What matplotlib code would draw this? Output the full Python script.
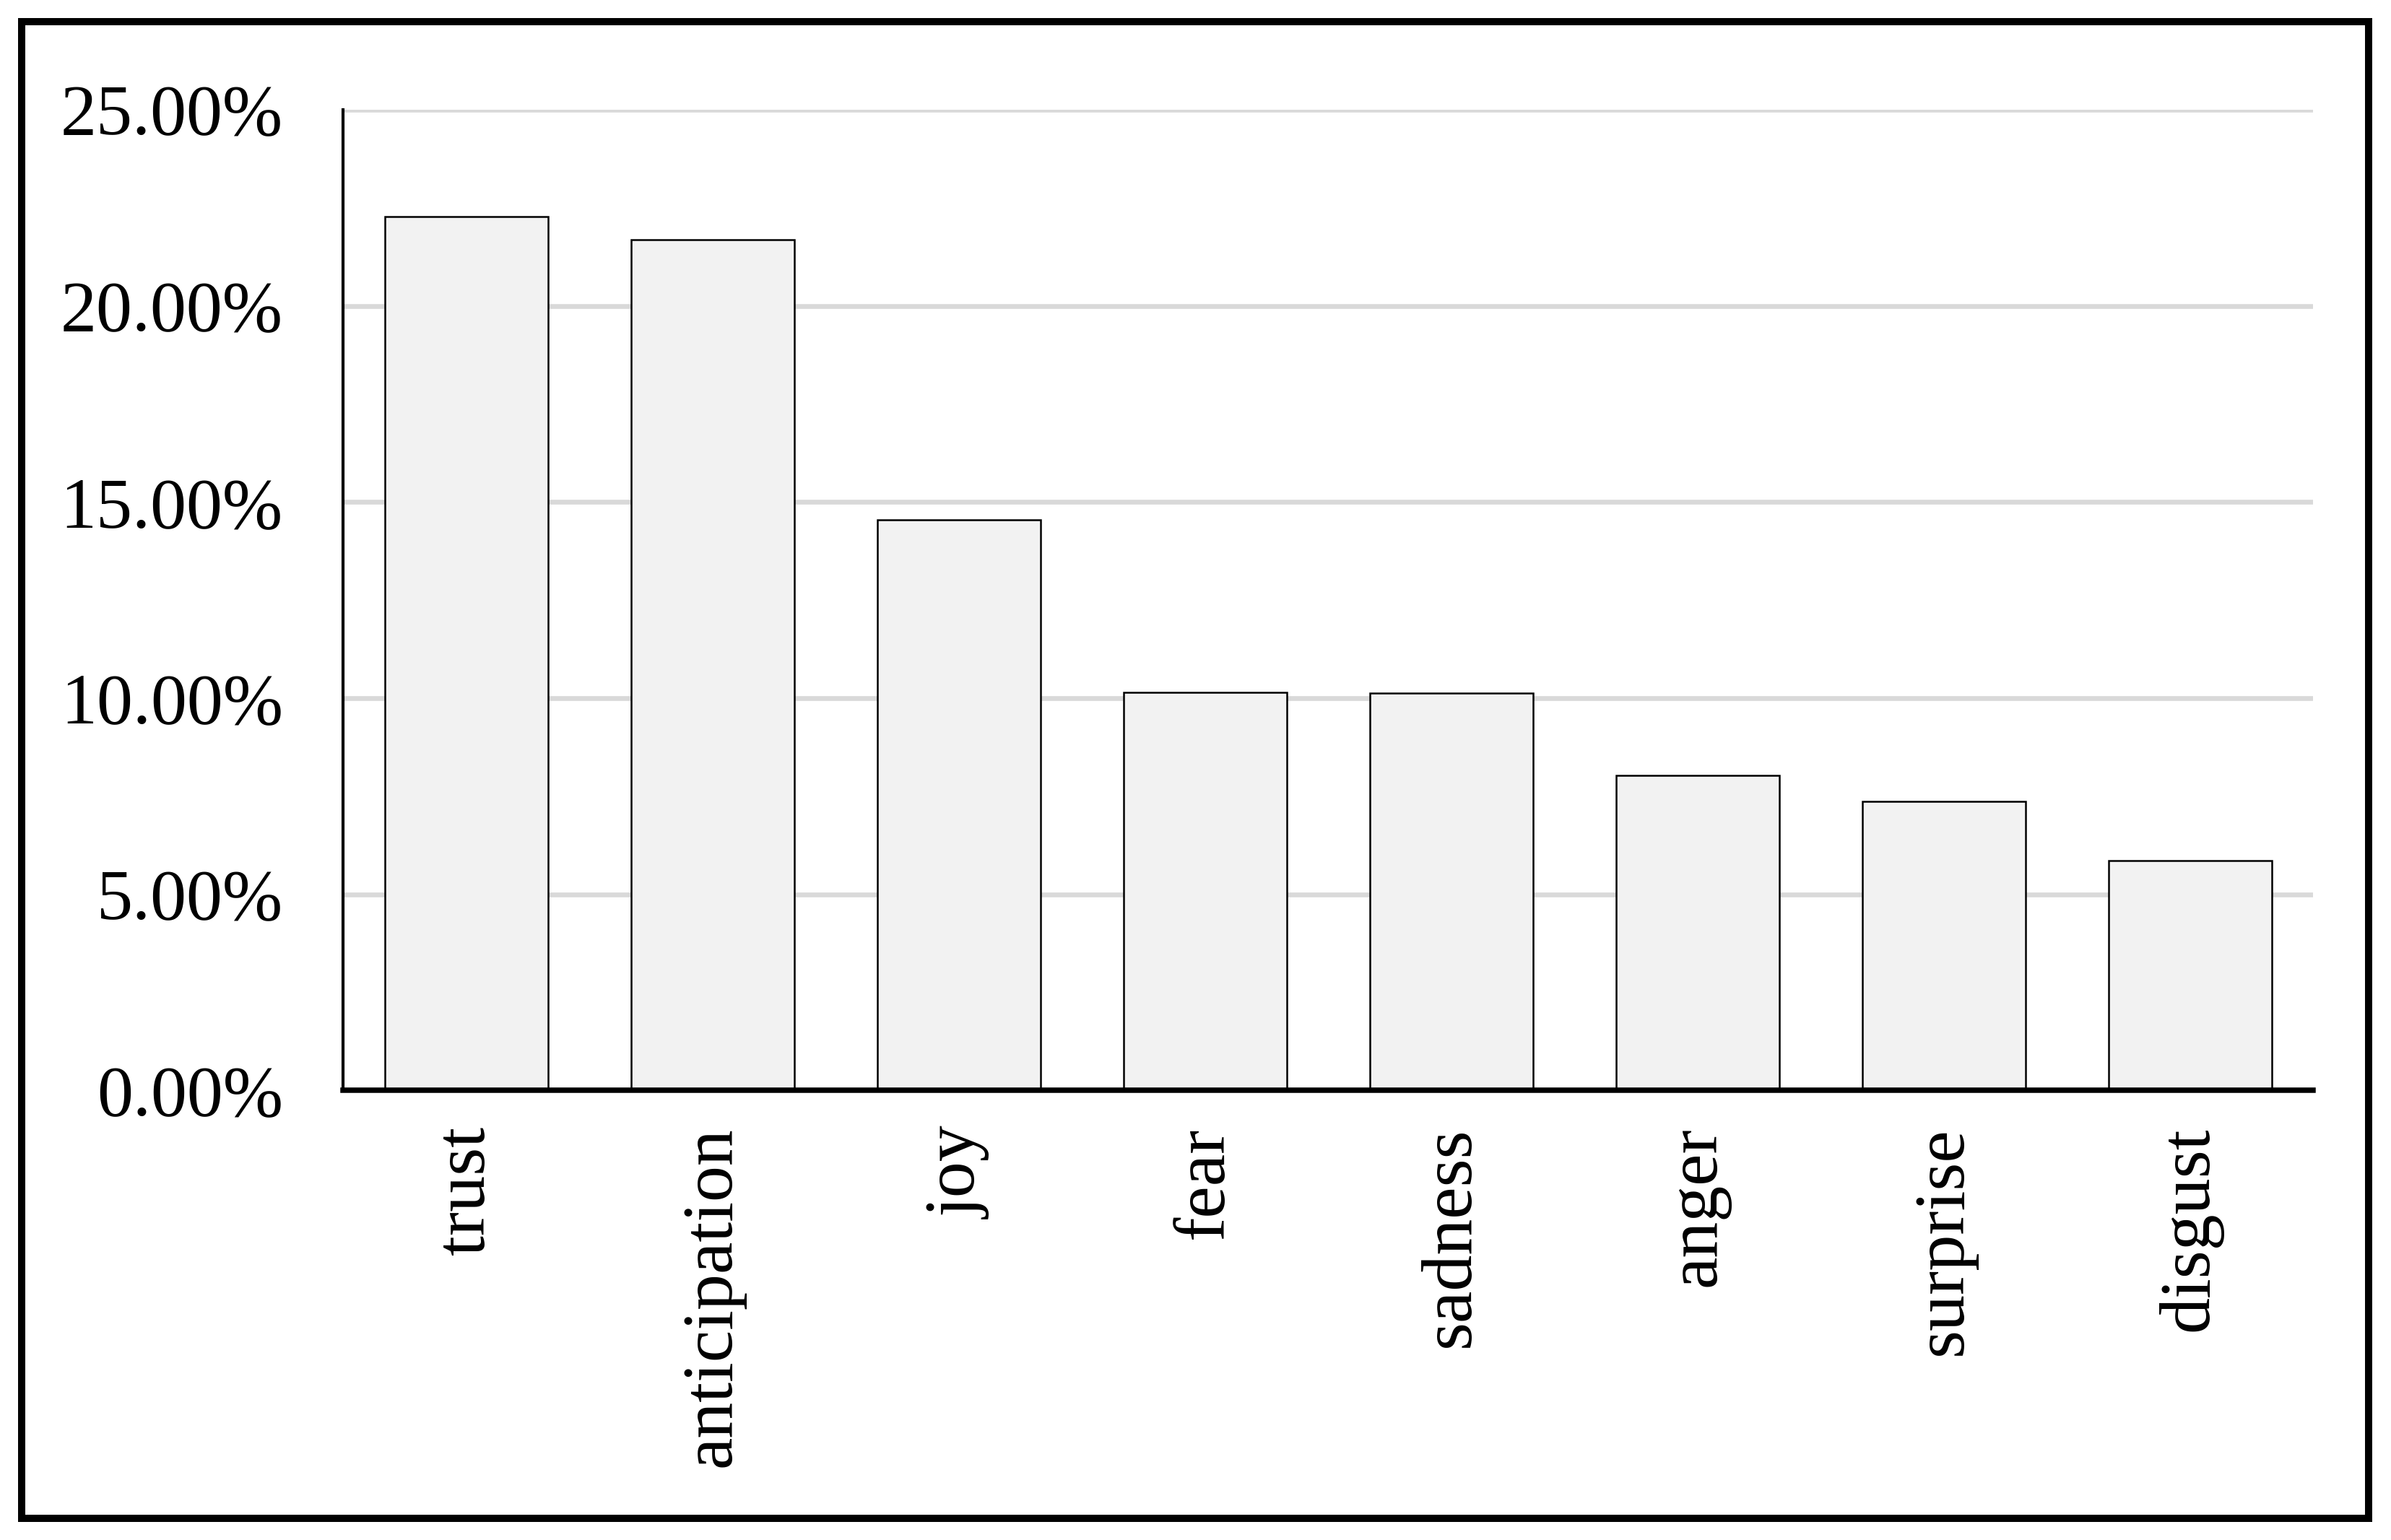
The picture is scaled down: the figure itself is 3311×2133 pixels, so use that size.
import matplotlib
matplotlib.use("Agg")
import matplotlib.pyplot as plt
from matplotlib.patches import Rectangle
from matplotlib.ticker import FuncFormatter

emotions = ["trust", "anticipation", "joy", "fear", "sadness", "anger", "surprise", "disgust"]
share = [22.28, 21.69, 14.54, 10.15, 10.12, 8.02, 7.37, 5.85]
yticks = [0, 5, 10, 15, 20, 25]

plt.rcParams['font.family'] = ['Liberation Serif', 'DejaVu Serif']

fig = plt.figure(figsize=(3311 / 300, 2133 / 300), dpi=300)
ax = fig.add_axes([0.1435, 0.292, 0.8239, 0.6367])

# grid behind the bars
ax.set_axisbelow(True)
ax.yaxis.grid(True, color="#d9d9d9", linewidth=1.6)

x = range(len(emotions))
ax.bar(x, share, width=0.6625, color="#f2f2f2", edgecolor="black", linewidth=0.6)

ax.set_xlim(-0.5, len(emotions) - 0.5)
ax.set_ylim(0, 25)
ax.set_yticks(yticks)
ax.yaxis.set_major_formatter(FuncFormatter(lambda v, p: f"{v:.2f}%"))
ax.set_xticks(list(x))
ax.set_xticklabels(emotions, rotation=90, va="top", ha="center")

ax.tick_params(axis="y", length=0, pad=20, labelsize=24)
ax.tick_params(axis="x", length=0, pad=12, labelsize=24)

for s in ["top", "right"]:
    ax.spines[s].set_visible(False)
ax.spines["left"].set_linewidth(1.0)
ax.spines["bottom"].set_linewidth(1.8)

# frame around the whole chart
fig.patches.append(Rectangle((30 / 3311, 30 / 2133), 3250 / 3311, 2073 / 2133,
                             transform=fig.transFigure, fill=False,
                             edgecolor="black", linewidth=2.4))

fig.savefig("out.png", dpi=300)
